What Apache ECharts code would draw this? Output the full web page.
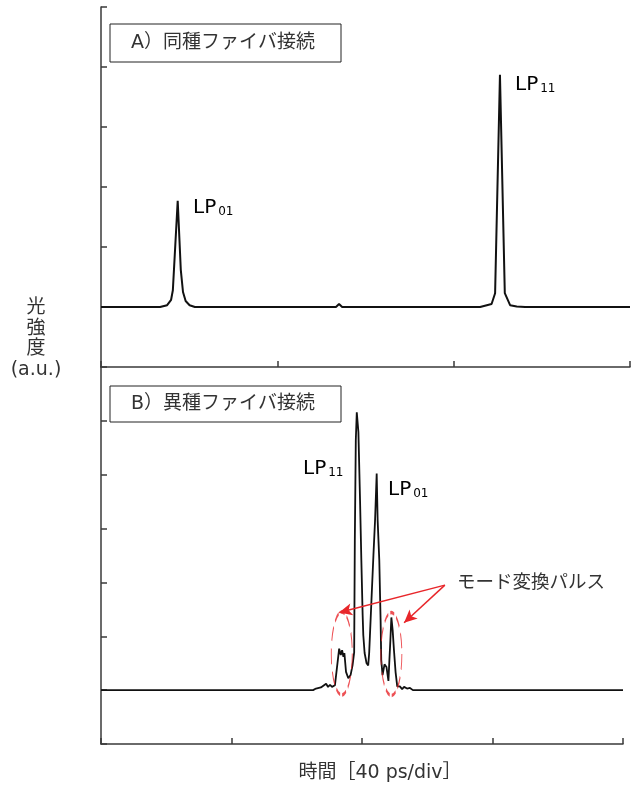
<!DOCTYPE html>
<html>
<head>
<meta charset="utf-8">
<script src="https://cdn.jsdelivr.net/npm/echarts@6/dist/echarts.min.js"></script>
<style>
  html, body { margin: 0; padding: 0; background: #fff; }
  #chart { width: 643px; height: 785px; }
</style>
</head>
<body>
<div id="chart"></div>
<script>
// Time axis in ps (40 ps per division), intensity in arbitrary units.

// A) same-type fibre splice: LP01 and LP11 pulses well separated
const sameFiberTime = [0, 13.4, 15.0, 15.9, 16.3, 17.4, 18.1, 18.6, 19.2, 20.1, 21.3,
  53.3, 54.0, 54.7, 86.0, 88.6, 89.4, 90.5, 91.6, 92.8, 94.3, 96.2, 120];
const sameFiberPower = [0, 0, 0.03, 0.12, 0.28, 1.77, 0.62, 0.25, 0.10, 0.03, 0,
  0, 0.05, 0, 0, 0.05, 0.23, 3.87, 0.23, 0.03, 0.01, 0, 0];

// B) different-type fibre splice: pulses overlap, mode-converted pulses appear
const diffFiberTime = [0, 65.0, 65.9, 66.5, 67.4, 68.0, 69.0, 69.6, 70.2, 70.8, 71.7, 72.2,
  73.0, 73.5, 73.9, 74.3, 74.6, 75.1, 75.8, 76.5, 77.1, 77.6,
  77.8, 78.1, 78.4, 78.9, 79.4, 79.8, 80.2, 80.4, 80.8, 81.4, 81.9,
  82.2, 82.5, 82.9, 83.5, 84.0, 84.5, 84.8, 85.3, 85.7, 85.9,
  86.3, 86.9, 87.5, 88.1, 88.4, 88.7, 89.0, 89.4, 89.8, 90.3, 90.8,
  91.6, 92.3, 92.9, 93.8, 94.7, 95.6, 160];
const diffFiberPower = [0, 0, 0.03, 0, 0.05, 0.02, 0.12, 0.06, 0.10, 0.06, 0.09, 0.06,
  0.77, 0.65, 0.74, 0.62, 0.69, 0.34, 0.22, 0.28, 0.46, 0.70,
  2.78, 4.64, 5.16, 4.79, 3.53, 2.41, 1.39, 1.02, 0.69, 0.50, 0.46,
  0.69, 1.11, 1.67, 2.50, 3.15, 4.02, 3.15, 2.41, 1.30, 0.56,
  0.28, 0.48, 0.43, 0.17, 0.56, 0.93, 1.35, 1.11, 0.74, 0.33, 0.07,
  0.07, 0.02, 0.06, 0.03, 0.04, 0, 0];

// mode-converted pulse groups (centre time, centre level) and arrow anchors
const convPulseCentres = [[73.8, 0.68], [89.0, 0.67]];
const arrowFrom = [105.4, 1.95];
const arrowTargets = [[73.0, 1.44], [92.9, 1.25]];

const xTicksTop = [0, 40, 80, 120];
const xTicksBottom = [0, 40, 80, 120, 160];

const FONT = '"DejaVu Sans", "Noto Sans CJK JP", sans-serif';
const CJK = '"Noto Sans CJK JP", sans-serif';
const TXT = '#333';
const AX = '#3a3a3a';

function zip(xs, ys) { return xs.map((x, i) => [x, ys[i]]); }

const axisCommon = {
  axisLine: { onZero: false, lineStyle: { color: AX, width: 1.5 } },
  axisTick: { inside: true, length: 6, lineStyle: { color: AX, width: 1.5 } },
  axisLabel: { show: false },
  splitLine: { show: false }
};

const lpRich = {
  m: { fontSize: 20, lineHeight: 24, color: TXT, fontFamily: FONT, verticalAlign: 'bottom' },
  s: { fontSize: 12, lineHeight: 12, color: TXT, fontFamily: FONT, verticalAlign: 'bottom', padding: [0, 0, 0, 2] }
};

function lpLabel(x, y, sub) {
  return {
    type: 'text', left: x, top: y,
    style: { text: '{m|LP}{s|' + sub + '}', rich: lpRich }
  };
}

function panelBox(x, y, w, h, text) {
  return {
    type: 'group', left: x, top: y,
    children: [
      { type: 'rect', shape: { x: 0, y: 0, width: w, height: h },
        style: { fill: '#fff', stroke: '#222', lineWidth: 1 } },
      { type: 'text', x: 21, y: h / 2,
        style: { text: text, fontSize: 19, fontFamily: FONT, fill: TXT, verticalAlign: 'middle' } }
    ]
  };
}

const chart = echarts.init(document.getElementById('chart'), null, { renderer: 'canvas' });

chart.setOption({
  animation: false,
  backgroundColor: '#fff',
  grid: [
    { left: 101, top: 7, width: 529, height: 360 },
    { left: 101, top: 367, width: 522, height: 377 }
  ],
  xAxis: [
    Object.assign({ gridIndex: 0, type: 'value', min: xTicksTop[0], max: xTicksTop[xTicksTop.length - 1], interval: 40 }, axisCommon),
    Object.assign({ gridIndex: 1, type: 'value', min: xTicksBottom[0], max: xTicksBottom[xTicksBottom.length - 1], interval: 40 }, axisCommon)
  ],
  yAxis: [
    Object.assign({ gridIndex: 0, type: 'value', min: -1, max: 5, interval: 1 }, axisCommon),
    Object.assign({ gridIndex: 1, type: 'value', min: -1, max: 6, interval: 1 }, axisCommon)
  ],
  series: [
    {
      type: 'line', xAxisIndex: 0, yAxisIndex: 0,
      data: zip(sameFiberTime, sameFiberPower),
      showSymbol: false, lineStyle: { color: '#111', width: 2 }
    },
    {
      type: 'line', xAxisIndex: 1, yAxisIndex: 1,
      data: zip(diffFiberTime, diffFiberPower),
      showSymbol: false, lineStyle: { color: '#111', width: 1.8 }
    },
    {
      type: 'scatter', xAxisIndex: 1, yAxisIndex: 1,
      data: convPulseCentres,
      symbol: 'circle', symbolSize: [21, 83],
      itemStyle: { color: 'rgba(0,0,0,0)', borderColor: '#e8262a', borderWidth: 1.8, borderType: [8, 4] },
      z: 3,
      markLine: {
        silent: true,
        symbol: ['none', 'arrow'],
        symbolSize: [9, 13],
        label: { show: false },
        lineStyle: { color: '#e8262a', width: 1.5, type: 'solid' },
        data: arrowTargets.map(t => [{ coord: arrowFrom }, { coord: t }])
      }
    }
  ],
  graphic: [
    panelBox(109.5, 23.5, 231, 38, 'A）同種ファイバ接続'),
    panelBox(109.5, 385.5, 231, 36, 'B）異種ファイバ接続'),
    lpLabel(193, 198, '01'),
    lpLabel(515, 75, '11'),
    lpLabel(303, 459, '11'),
    lpLabel(388, 480, '01'),
    { type: 'text', left: 457, top: 572,
      style: { text: 'モード変換パルス', fontSize: 18.5, fontFamily: CJK, fill: TXT } },
    { type: 'text', x: 380, y: 773,
      style: { text: '時間［40 ps/div］', fontSize: 19, fontFamily: FONT, fill: TXT,
        align: 'center', verticalAlign: 'middle' } },
    { type: 'text', x: 36, y: 339,
      style: { text: '光\n強\n度\n(a.u.)', fontSize: 19, lineHeight: 20.5, fontFamily: FONT, fill: TXT,
        align: 'center', verticalAlign: 'middle' } }
  ]
});
</script>
</body>
</html>
